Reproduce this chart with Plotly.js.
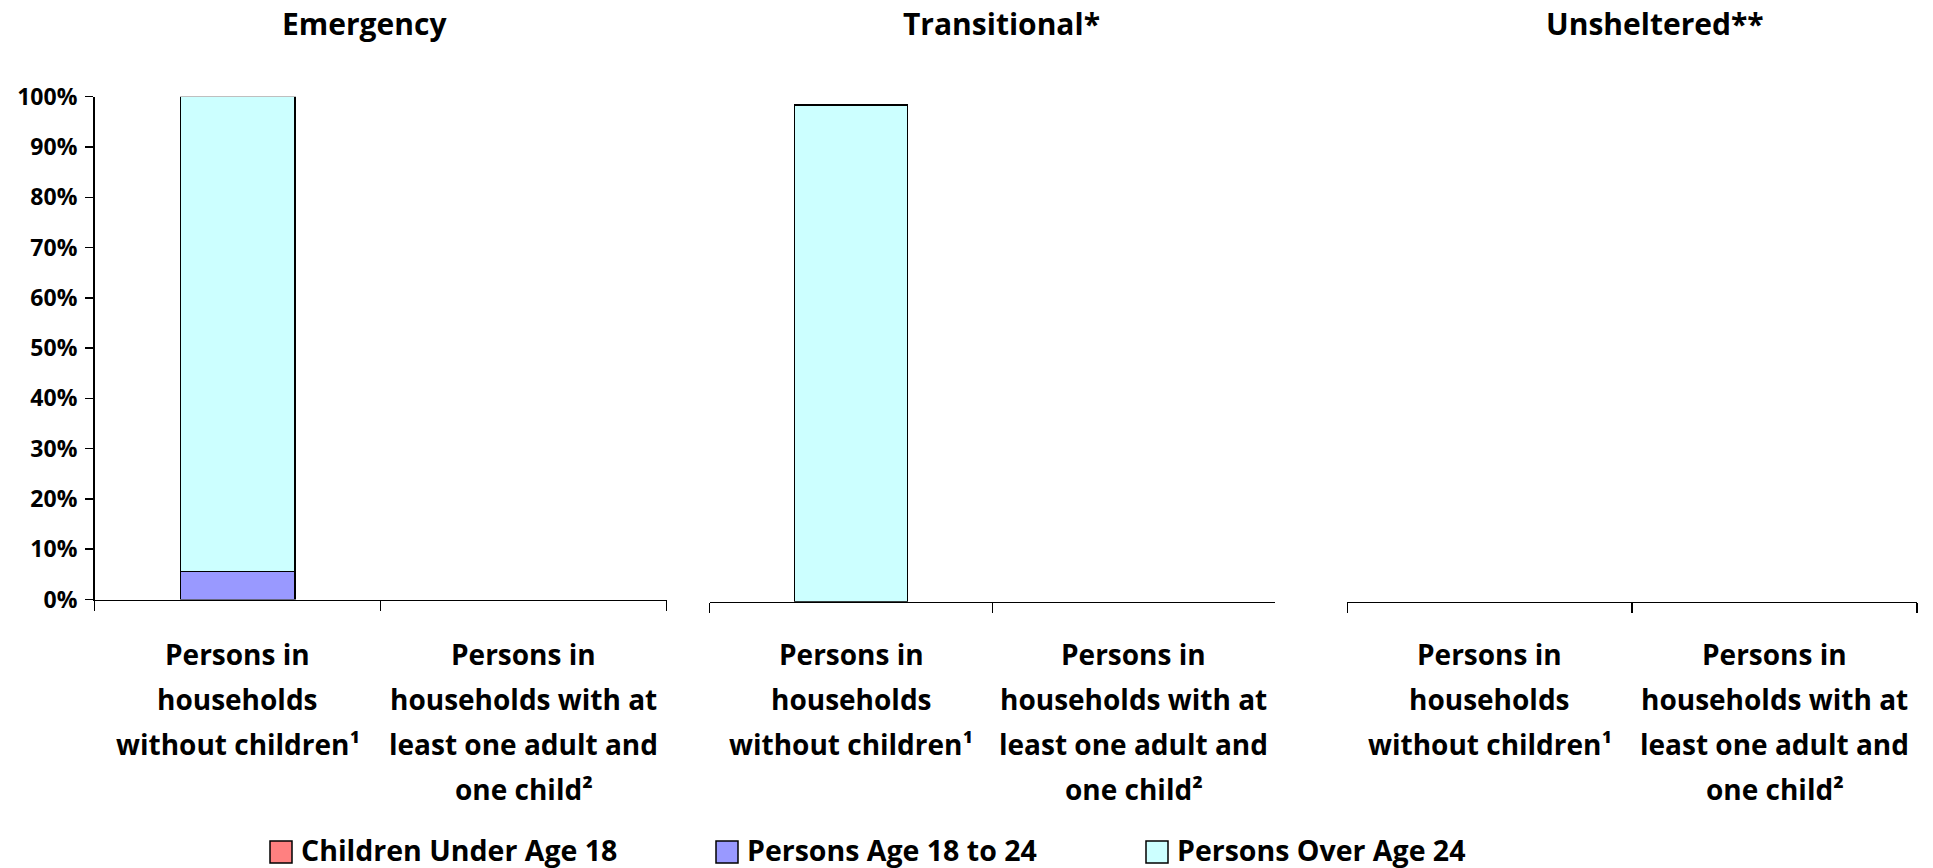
<!DOCTYPE html>
<html>
<head>
<meta charset="utf-8">
<script src="https://cdn.plot.ly/plotly-3.0.1.min.js"></script>
<style>html,body{margin:0;padding:0;background:#fff;}#chart{width:1933px;height:868px;}</style>
</head>
<body>
<div id="chart"></div>
<script>
// ---- data ----
const panelTitles = ["Emergency", "Transitional*", "Unsheltered**"];
const categories = ["Persons in households without children¹", "Persons in households with at least one adult and one child²"];
const categoryLines = [
  ["Persons in", "households", "without children¹"],
  ["Persons in", "households with at", "least one adult and", "one child²"]
];
const seriesNames = ["Children Under Age 18", "Persons Age 18 to 24", "Persons Over Age 24"];
const seriesColors = ["#FF8080", "#9999FF", "#CCFFFF"];
// values in percent, [without children, with adult and child]
const emergencyChildren = [0, 0];
const emergencyYoung = [5.6, 0];
const emergencyOver24 = [94.4, 0];
const transitionalChildren = [0, 0];
const transitionalYoung = [0, 0];
const transitionalOver24 = [98.8, 0];
const unshelteredChildren = [0, 0];
const unshelteredYoung = [0, 0];
const unshelteredOver24 = [0, 0];
const yTickVals = [0, 10, 20, 30, 40, 50, 60, 70, 80, 90, 100];
const yTickText = ["0%", "10%", "20%", "30%", "40%", "50%", "60%", "70%", "80%", "90%", "100%"];

// ---- layout helpers ----
const W = 1933, H = 868;
const px = x => x / W;
const py = y => 1 - y / H;
const FONT = "Open Sans, Noto Sans, sans-serif";

const panelData = [
  [emergencyChildren, emergencyYoung, emergencyOver24],
  [transitionalChildren, transitionalYoung, transitionalOver24],
  [unshelteredChildren, unshelteredYoung, unshelteredOver24]
];
const xDomains = [[94.5, 666.7], [709.7, 1275.3], [1347.3, 1917]];
const yDomains = [[599.5, 96.7], [601.7, 98.9], [601.7, 98.9]];
const titleX = [364, 1001, 1655];

const traces = [];
panelData.forEach((series, p) => {
  const ax = p === 0 ? "" : String(p + 1);
  series.forEach((vals, s) => {
    traces.push({
      type: "bar",
      x: categories,
      y: vals,
      name: seriesNames[s],
      xaxis: "x" + ax,
      yaxis: "y" + ax,
      marker: {color: seriesColors[s], line: {color: "#000", width: vals.map(v => v > 0 ? 1.5 : 0)}},
      showlegend: false,
      hoverinfo: "skip"
    });
  });
});

const layout = {
  width: W, height: H,
  margin: {l: 0, r: 0, t: 0, b: 0},
  paper_bgcolor: "#fff",
  plot_bgcolor: "rgba(0,0,0,0)",
  barmode: "stack",
  bargap: 0.6,
  showlegend: false,
  font: {family: FONT, color: "#000"},
  annotations: [],
  shapes: []
};

for (let p = 0; p < 3; p++) {
  const ax = p === 0 ? "" : String(p + 1);
  layout["xaxis" + ax] = {
    domain: [px(xDomains[p][0]), px(xDomains[p][1])],
    anchor: "y" + ax,
    type: "category",
    range: [-0.5, 1.5],
    showline: true, linecolor: "#000", linewidth: 1.5,
    ticks: "outside", tickson: "boundaries", ticklen: 10, tickcolor: "#000", tickwidth: 1.5,
    showticklabels: false,
    showgrid: false, zeroline: false, fixedrange: true
  };
  layout["yaxis" + ax] = {
    domain: [py(yDomains[p][0]), py(yDomains[p][1])],
    anchor: "x" + ax,
    range: [0, 100],
    tickvals: yTickVals, ticktext: yTickText,
    visible: p === 0,
    showline: true, linecolor: "#000", linewidth: 1.5,
    ticks: "outside", ticklen: 8, tickcolor: "#000", tickwidth: 1.5,
    tickfont: {family: FONT, size: 23, weight: 700, color: "#000"},
    ticklabelstandoff: 3,
    showgrid: false, zeroline: false, fixedrange: true
  };
  // panel title
  layout.annotations.push({
    text: panelTitles[p], xref: "paper", yref: "paper",
    x: px(titleX[p]), y: py(24), xanchor: "center", yanchor: "middle",
    showarrow: false, font: {family: FONT, size: 30, weight: 700, color: "#000"}
  });
  // category labels (one annotation per line for Excel-like line spacing)
  categories.forEach((cat, c) => {
    categoryLines[c].forEach((line, i) => {
      layout.annotations.push({
        text: line, xref: "x" + ax, yref: "paper",
        x: cat, y: py(654 + i * 45), xanchor: "center", yanchor: "middle",
        showarrow: false, font: {family: FONT, size: 28, weight: 700, color: "#000"}
      });
    });
  });
}

// legend
const legendSquareX = [270, 716, 1146];
seriesNames.forEach((name, s) => {
  const x0 = legendSquareX[s];
  layout.shapes.push({
    type: "rect", xref: "paper", yref: "paper",
    x0: px(x0), x1: px(x0 + 22), y0: py(863), y1: py(841),
    fillcolor: seriesColors[s], line: {color: "#000", width: 1.5}
  });
  layout.annotations.push({
    text: name, xref: "paper", yref: "paper",
    x: px(x0 + 29), y: py(849.5), xanchor: "left", yanchor: "middle",
    showarrow: false, font: {family: FONT, size: 28.5, weight: 700, color: "#000"}
  });
});

Plotly.newPlot("chart", traces, layout, {staticPlot: true, displayModeBar: false});
</script>
</body>
</html>
